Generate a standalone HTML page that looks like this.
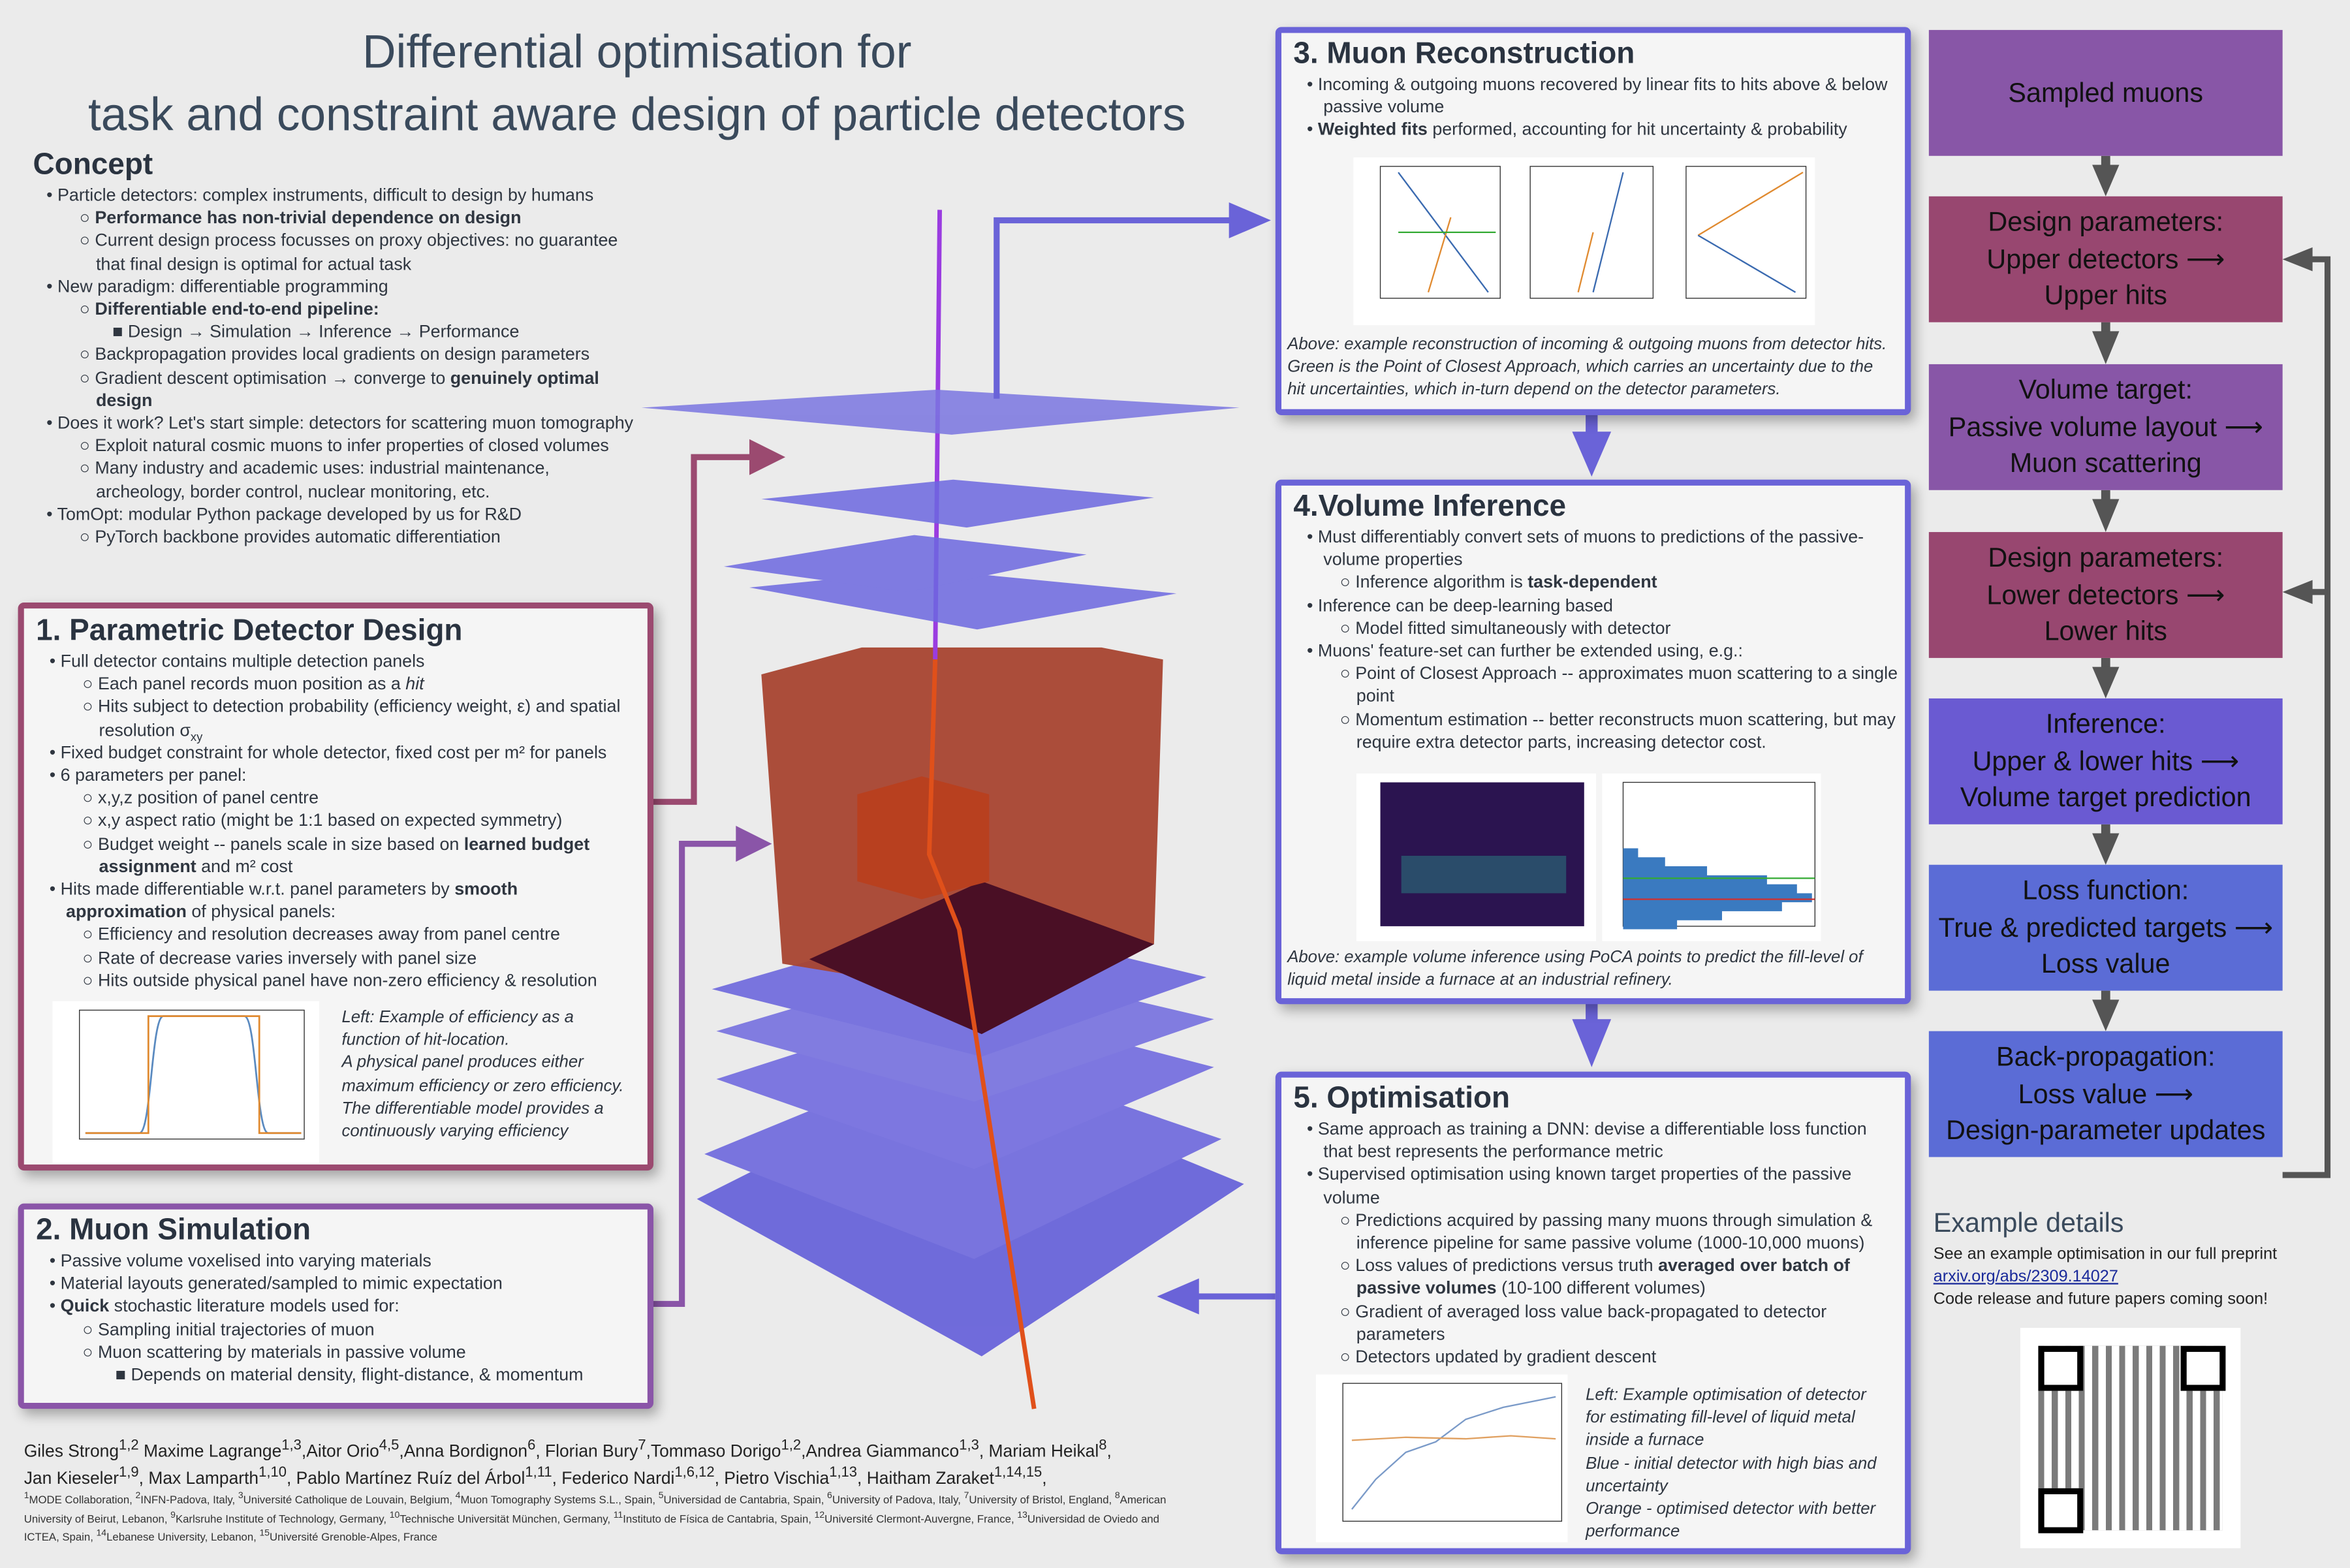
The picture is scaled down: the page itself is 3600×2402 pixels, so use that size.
<!DOCTYPE html>
<html><head><meta charset="utf-8"><style>
html,body{margin:0;padding:0;background:#ebebeb;}
body{width:3600px;height:2400px;overflow:hidden;}
#w{position:absolute;left:0;top:0;width:1568px;height:1045.3px;transform:scale(2.29592);transform-origin:0 0;font-family:"Liberation Sans",sans-serif;color:#2e3440;}
.a{position:absolute;}
.t{font-size:11.7px;line-height:15.2px;color:#2f3640;}
.t p{margin:0;}
sup,sub{line-height:0;}
.l1{padding-left:20px;text-indent:-11px;}
.l2{padding-left:42px;text-indent:-11px;}
.l3{padding-left:64px;text-indent:-11px;}
.pn{position:absolute;background:#f5f5f5;border:4px solid;border-radius:4px;box-shadow:3px 4px 8px rgba(0,0,0,.3);}
.h{font-size:20px;line-height:24px;font-weight:bold;color:#2a3340;margin:0 0 1px 0;}
.fb{position:absolute;left:1287px;width:236px;height:84px;display:flex;align-items:center;justify-content:center;text-align:center;font-size:18px;line-height:24.5px;color:#111;}
.cap{font-size:11.2px;line-height:15.2px;}
i{font-style:italic;}
</style></head><body><div id="w">
<svg class="a" style="left:0;top:0" width="1568" height="1046">
<!-- detector -->
<g opacity="0.85">
<polygon points="465,800 640,712 830,790 655,905" fill="#5a55d8"/>
<polygon points="470,770 640,700 815,760 650,840" fill="#6560dc"/>
<polygon points="478,720 640,668 810,712 650,780" fill="#6a63de"/>
<polygon points="478,688 640,640 810,680 650,735" fill="#6f69df"/>
<polygon points="475,660 640,612 805,652 655,705" fill="#6560dc"/>
</g>
<polygon points="508,450 575,432 735,432 776,440 770,630 656,665 522,643" fill="#a84530" opacity="0.95"/>
<polygon points="540,640 655,588 770,630 655,690" fill="#4a0f25"/>
<polygon points="572,530 615,518 660,530 660,588 615,600 572,588" fill="#b8401f"/>
<line x1="627" y1="140" x2="624" y2="440" stroke="#9a3ce0" stroke-width="3"/>
<polyline points="624,440 620,570 640,620 690,940" fill="none" stroke="#e0501a" stroke-width="3"/>
<g opacity="0.85">
<polygon points="500,392 620,380 785,396 652,420" fill="#6d68e0"/>
<polygon points="483,378 610,357 725,370 606,395" fill="#6d68e0"/>
<polygon points="508,333 636,320 770,332 645,352" fill="#6d68e0"/>
<polygon points="428,272 625,260 827,272 635,290" fill="#7a75e0"/>
</g>
<!-- connectors -->
<polyline points="432,535 463,535 463,305 505,305" fill="none" stroke="#9b4a70" stroke-width="4"/>
<polygon points="500,293 524,305 500,317" fill="#9b4a70"/>
<polyline points="432,870 455,870 455,563 495,563" fill="none" stroke="#8a55a8" stroke-width="4"/>
<polygon points="491,551 515,563 491,575" fill="#8a55a8"/>
<polyline points="665,266 665,147 825,147" fill="none" stroke="#6a63d8" stroke-width="4"/>
<polygon points="820,135 848,147 820,159" fill="#6a63d8"/>
<rect x="1058" y="275" width="8" height="15" fill="#6a63d8"/><polygon points="1049,288 1075,288 1062,318" fill="#6a63d8"/>
<rect x="1058" y="668" width="8" height="15" fill="#6a63d8"/><polygon points="1049,680 1075,680 1062,712" fill="#6a63d8"/>
<polyline points="851,865 795,865" fill="none" stroke="#6a63d8" stroke-width="4"/>
<polygon points="800,853 772,865 800,877" fill="#6a63d8"/>
<!-- flow arrows -->
<g fill="#555">
<rect x="1402" y="104" width="6" height="8"/><polygon points="1396,110 1414,110 1405,131"/>
<rect x="1402" y="215" width="6" height="8"/><polygon points="1396,221 1414,221 1405,243"/>
<rect x="1402" y="327" width="6" height="8"/><polygon points="1396,333 1414,333 1405,355"/>
<rect x="1402" y="439" width="6" height="8"/><polygon points="1396,445 1414,445 1405,466"/>
<rect x="1402" y="550" width="6" height="8"/><polygon points="1396,556 1414,556 1405,577"/>
<rect x="1402" y="661" width="6" height="8"/><polygon points="1396,667 1414,667 1405,688"/>
<polygon points="1523,173 1543,165 1543,181"/><polygon points="1523,395 1543,387 1543,403"/>
</g>
<polyline points="1523,784 1553,784 1553,173 1540,173" fill="none" stroke="#555" stroke-width="4"/>
<line x1="1553" y1="395" x2="1540" y2="395" stroke="#555" stroke-width="4"/>
</svg>

<div class="a" style="left:0;top:14px;width:850px;text-align:center;font-size:31px;line-height:42px;color:#3a4a5c;">Differential optimisation for<br>task and constraint aware design of particle detectors</div>

<div class="a t" style="left:22px;top:98px;width:405px;">
<div class="h" style="margin-bottom:1px">Concept</div>
<p class="l1">• Particle detectors: complex instruments, difficult to design by humans</p>
<p class="l2">○ <b>Performance has non-trivial dependence on design</b></p>
<p class="l2">○ Current design process focusses on proxy objectives: no guarantee that final design is optimal for actual task</p>
<p class="l1">• New paradigm: differentiable programming</p>
<p class="l2">○ <b>Differentiable end-to-end pipeline:</b></p>
<p class="l3">■ Design → Simulation → Inference → Performance</p>
<p class="l2">○ Backpropagation provides local gradients on design parameters</p>
<p class="l2">○ Gradient descent optimisation → converge to <b>genuinely optimal design</b></p>
<p class="l1">• Does it work? Let's start simple: detectors for scattering muon tomography</p>
<p class="l2">○ Exploit natural cosmic muons to infer properties of closed volumes</p>
<p class="l2">○ Many industry and academic uses: industrial maintenance, archeology, border control, nuclear monitoring, etc.</p>
<p class="l1">• TomOpt: modular Python package developed by us for R&amp;D</p>
<p class="l2">○ PyTorch backbone provides automatic differentiation</p>
</div>

<div class="pn t" style="left:12px;top:402px;width:404px;height:368px;border-color:#9b4a70;padding:3px 4px 0 8px;">
<div class="h">1. Parametric Detector Design</div>
<p class="l1">• Full detector contains multiple detection panels</p>
<p class="l2">○ Each panel records muon position as a <i>hit</i></p>
<p class="l2">○ Hits subject to detection probability (efficiency weight, ε) and spatial resolution σ<sub style="font-size:8px">xy</sub></p>
<p class="l1">• Fixed budget constraint for whole detector, fixed cost per m² for panels</p>
<p class="l1">• 6 parameters per panel:</p>
<p class="l2">○ x,y,z position of panel centre</p>
<p class="l2">○ x,y aspect ratio (might be 1:1 based on expected symmetry)</p>
<p class="l2">○ Budget weight -- panels scale in size based on <b>learned budget assignment</b> and m² cost</p>
<p class="l1">• Hits made differentiable w.r.t. panel parameters by <b>smooth approximation</b> of physical panels:</p>
<p class="l2">○ Efficiency and resolution decreases away from panel centre</p>
<p class="l2">○ Rate of decrease varies inversely with panel size</p>
<p class="l2">○ Hits outside physical panel have non-zero efficiency &amp; resolution</p>
<svg class="a" style="left:19px;top:262px" width="178" height="108"><rect width="178" height="108" fill="#fff"/><rect x="18" y="6" width="150" height="86" fill="none" stroke="#333" stroke-width=".6"/><path d="M22,88 L58,88 C66,88 66,10 74,10 L128,10 C136,10 136,88 144,88 L166,88" fill="none" stroke="#5a8ac0" stroke-width="1.2"/><path d="M22,88 L64,88 L64,10 L138,10 L138,88 L166,88" fill="none" stroke="#e08a30" stroke-width="1.2"/></svg>
<div class="a cap" style="left:212px;top:266px;font-style:italic;width:196px;">Left: Example of efficiency as a function of hit-location.<br>A physical panel produces either maximum efficiency or zero efficiency.<br>The differentiable model provides a continuously varying efficiency</div>
</div>

<div class="pn t" style="left:12px;top:803px;width:404px;height:127px;border-color:#8a55a8;padding:2px 4px 0 8px;">
<div class="h">2. Muon Simulation</div>
<p class="l1">• Passive volume voxelised into varying materials</p>
<p class="l1">• Material layouts generated/sampled to mimic expectation</p>
<p class="l1">• <b>Quick</b> stochastic literature models used for:</p>
<p class="l2">○ Sampling initial trajectories of muon</p>
<p class="l2">○ Muon scattering by materials in passive volume</p>
<p class="l3">■ Depends on material density, flight-distance, &amp; momentum</p>
</div>

<div class="pn t" style="left:851px;top:18px;width:404px;height:249px;border-color:#6a63d8;padding:2px 4px 0 8px;">
<div class="h">3. Muon Reconstruction</div>
<p class="l1">• Incoming &amp; outgoing muons recovered by linear fits to hits above &amp; below passive volume</p>
<p class="l1">• <b>Weighted fits</b> performed, accounting for hit uncertainty &amp; probability</p>
<svg class="a" style="left:48px;top:83px" width="308" height="112"><rect width="308" height="112" fill="#fff"/><g fill="none" stroke="#333" stroke-width=".6"><rect x="18" y="6" width="80" height="88"/><rect x="118" y="6" width="82" height="88"/><rect x="222" y="6" width="80" height="88"/></g><g stroke-width="1"><line x1="30" y1="10" x2="90" y2="90" stroke="#3a6ab0"/><line x1="65" y1="40" x2="50" y2="90" stroke="#e08a30"/><line x1="30" y1="50" x2="95" y2="50" stroke="#3a3"/><line x1="180" y1="10" x2="160" y2="90" stroke="#3a6ab0"/><line x1="160" y1="50" x2="150" y2="90" stroke="#e08a30"/><line x1="230" y1="52" x2="300" y2="10" stroke="#e08a30"/><line x1="230" y1="52" x2="295" y2="90" stroke="#3a6ab0"/></g></svg>
<div class="a cap" style="left:4px;top:201px;font-style:italic;width:400px;">Above: example reconstruction of incoming &amp; outgoing muons from detector hits. Green is the Point of Closest Approach, which carries an uncertainty due to the hit uncertainties, which in-turn depend on the detector parameters.</div>
</div>

<div class="pn t" style="left:851px;top:320px;width:404px;height:340px;border-color:#6a63d8;padding:2px 4px 0 8px;">
<div class="h">4.Volume Inference</div>
<p class="l1">• Must differentiably convert sets of muons to predictions of the passive-volume properties</p>
<p class="l2">○ Inference algorithm is <b>task-dependent</b></p>
<p class="l1">• Inference can be deep-learning based</p>
<p class="l2">○ Model fitted simultaneously with detector</p>
<p class="l1">• Muons' feature-set can further be extended using, e.g.:</p>
<p class="l2">○ Point of Closest Approach -- approximates muon scattering to a single point</p>
<p class="l2">○ Momentum estimation -- better reconstructs muon scattering, but may require extra detector parts, increasing detector cost.</p>
<svg class="a" style="left:50px;top:192px" width="310" height="112"><rect x="0" y="0" width="160" height="112" fill="#fff"/><rect x="16" y="6" width="136" height="96" fill="#2b1450"/><rect x="30" y="55" width="110" height="25" fill="#2a7a80" opacity=".55"/><rect x="164" y="0" width="146" height="112" fill="#fff"/><rect x="178" y="6" width="128" height="96" fill="none" stroke="#333" stroke-width=".6"/><path d="M178,50 h10 v6 h18 v6 h28 v6 h40 v6 h20 v6 h10 v6 h-20 v6 h-40 v6 h-30 v6 h-36z" fill="#3a7ac0"/><line x1="178" y1="70" x2="306" y2="70" stroke="#3a3"/><line x1="178" y1="84" x2="306" y2="84" stroke="#c33"/></svg>
<div class="a cap" style="left:4px;top:308px;font-style:italic;width:400px;">Above: example volume inference using PoCA points to predict the fill-level of liquid metal inside a furnace at an industrial refinery.</div>
</div>

<div class="pn t" style="left:851px;top:715px;width:404px;height:312px;border-color:#6a63d8;padding:2px 4px 0 8px;">
<div class="h">5. Optimisation</div>
<p class="l1">• Same approach as training a DNN: devise a differentiable loss function that best represents the performance metric</p>
<p class="l1">• Supervised optimisation using known target properties of the passive volume</p>
<p class="l2">○ Predictions acquired by passing many muons through simulation &amp; inference pipeline for same passive volume (1000-10,000 muons)</p>
<p class="l2">○ Loss values of predictions versus truth <b>averaged over batch of passive volumes</b> (10-100 different volumes)</p>
<p class="l2">○ Gradient of averaged loss value back-propagated to detector parameters</p>
<p class="l2">○ Detectors updated by gradient descent</p>
<svg class="a" style="left:23px;top:198px" width="168" height="112"><rect width="168" height="112" fill="#fff"/><rect x="18" y="6" width="146" height="92" fill="none" stroke="#333" stroke-width=".6"/><polyline points="24,90 40,70 60,52 80,45 100,30 125,22 160,15" fill="none" stroke="#7a9ac8" stroke-width="1"/><polyline points="24,44 60,42 100,43 130,41 160,43" fill="none" stroke="#e0a060" stroke-width="1"/></svg>
<div class="a cap" style="left:203px;top:205px;font-style:italic;width:200px;">Left: Example optimisation of detector for estimating fill-level of liquid metal inside a furnace<br>Blue - initial detector with high bias and uncertainty<br>Orange - optimised detector with better performance</div>
</div>

<div class="fb" style="top:20px;background:#8856a7">Sampled muons</div>
<div class="fb" style="top:131px;background:#984770">Design parameters:<br>Upper detectors ⟶<br>Upper hits</div>
<div class="fb" style="top:243px;background:#8856a7">Volume target:<br>Passive volume layout ⟶<br>Muon scattering</div>
<div class="fb" style="top:355px;background:#984770">Design parameters:<br>Lower detectors ⟶<br>Lower hits</div>
<div class="fb" style="top:466px;background:#6a5ad2">Inference:<br>Upper &amp; lower hits ⟶<br>Volume target prediction</div>
<div class="fb" style="top:577px;background:#5b6cd6">Loss function:<br>True &amp; predicted targets ⟶<br>Loss value</div>
<div class="fb" style="top:688px;background:#5b6cd6">Back-propagation:<br>Loss value ⟶<br>Design-parameter updates</div>

<div class="a" style="left:1290px;top:806px;font-size:18px;color:#3a4a5c;">Example details</div>
<div class="a" style="left:1290px;top:830px;font-size:11px;line-height:15px;color:#222;">See an example optimisation in our full preprint<br><u style="color:#1a2a9a">arxiv.org/abs/2309.14027</u><br>Code release and future papers coming soon!</div>
<div class="a" style="left:1348px;top:886px;width:147px;height:147px;background:#fff;"><div style="position:absolute;left:12px;top:12px;width:123px;height:123px;background:repeating-linear-gradient(90deg,#111 0 4px,#fff 4px 9px),#111;opacity:.55"></div>
<div style="position:absolute;left:12px;top:12px;width:22px;height:22px;border:4px solid #000;background:#fff"></div>
<div style="position:absolute;left:107px;top:12px;width:22px;height:22px;border:4px solid #000;background:#fff"></div>
<div style="position:absolute;left:12px;top:107px;width:22px;height:22px;border:4px solid #000;background:#fff"></div></div>

<div class="a" style="left:16px;top:960px;font-size:11.5px;line-height:18px;color:#222;width:800px;">Giles Strong<sup>1,2</sup> Maxime Lagrange<sup>1,3</sup>,Aitor Orio<sup>4,5</sup>,Anna Bordignon<sup>6</sup>, Florian Bury<sup>7</sup>,Tommaso Dorigo<sup>1,2</sup>,Andrea Giammanco<sup>1,3</sup>, Mariam Heikal<sup>8</sup>,<br>Jan Kieseler<sup>1,9</sup>, Max Lamparth<sup>1,10</sup>, Pablo Martínez Ruíz del Árbol<sup>1,11</sup>, Federico Nardi<sup>1,6,12</sup>, Pietro Vischia<sup>1,13</sup>, Haitham Zaraket<sup>1,14,15</sup>,</div>
<div class="a" style="left:16px;top:995px;font-size:7.3px;line-height:12.5px;color:#333;width:780px;"><sup>1</sup>MODE Collaboration, <sup>2</sup>INFN-Padova, Italy, <sup>3</sup>Université Catholique de Louvain, Belgium, <sup>4</sup>Muon Tomography Systems S.L., Spain, <sup>5</sup>Universidad de Cantabria, Spain, <sup>6</sup>University of Padova, Italy, <sup>7</sup>University of Bristol, England, <sup>8</sup>American University of Beirut, Lebanon, <sup>9</sup>Karlsruhe Institute of Technology, Germany, <sup>10</sup>Technische Universität München, Germany, <sup>11</sup>Instituto de Física de Cantabria, Spain, <sup>12</sup>Université Clermont-Auvergne, France, <sup>13</sup>Universidad de Oviedo and ICTEA, Spain, <sup>14</sup>Lebanese University, Lebanon, <sup>15</sup>Université Grenoble-Alpes, France</div>
</div></body></html>
